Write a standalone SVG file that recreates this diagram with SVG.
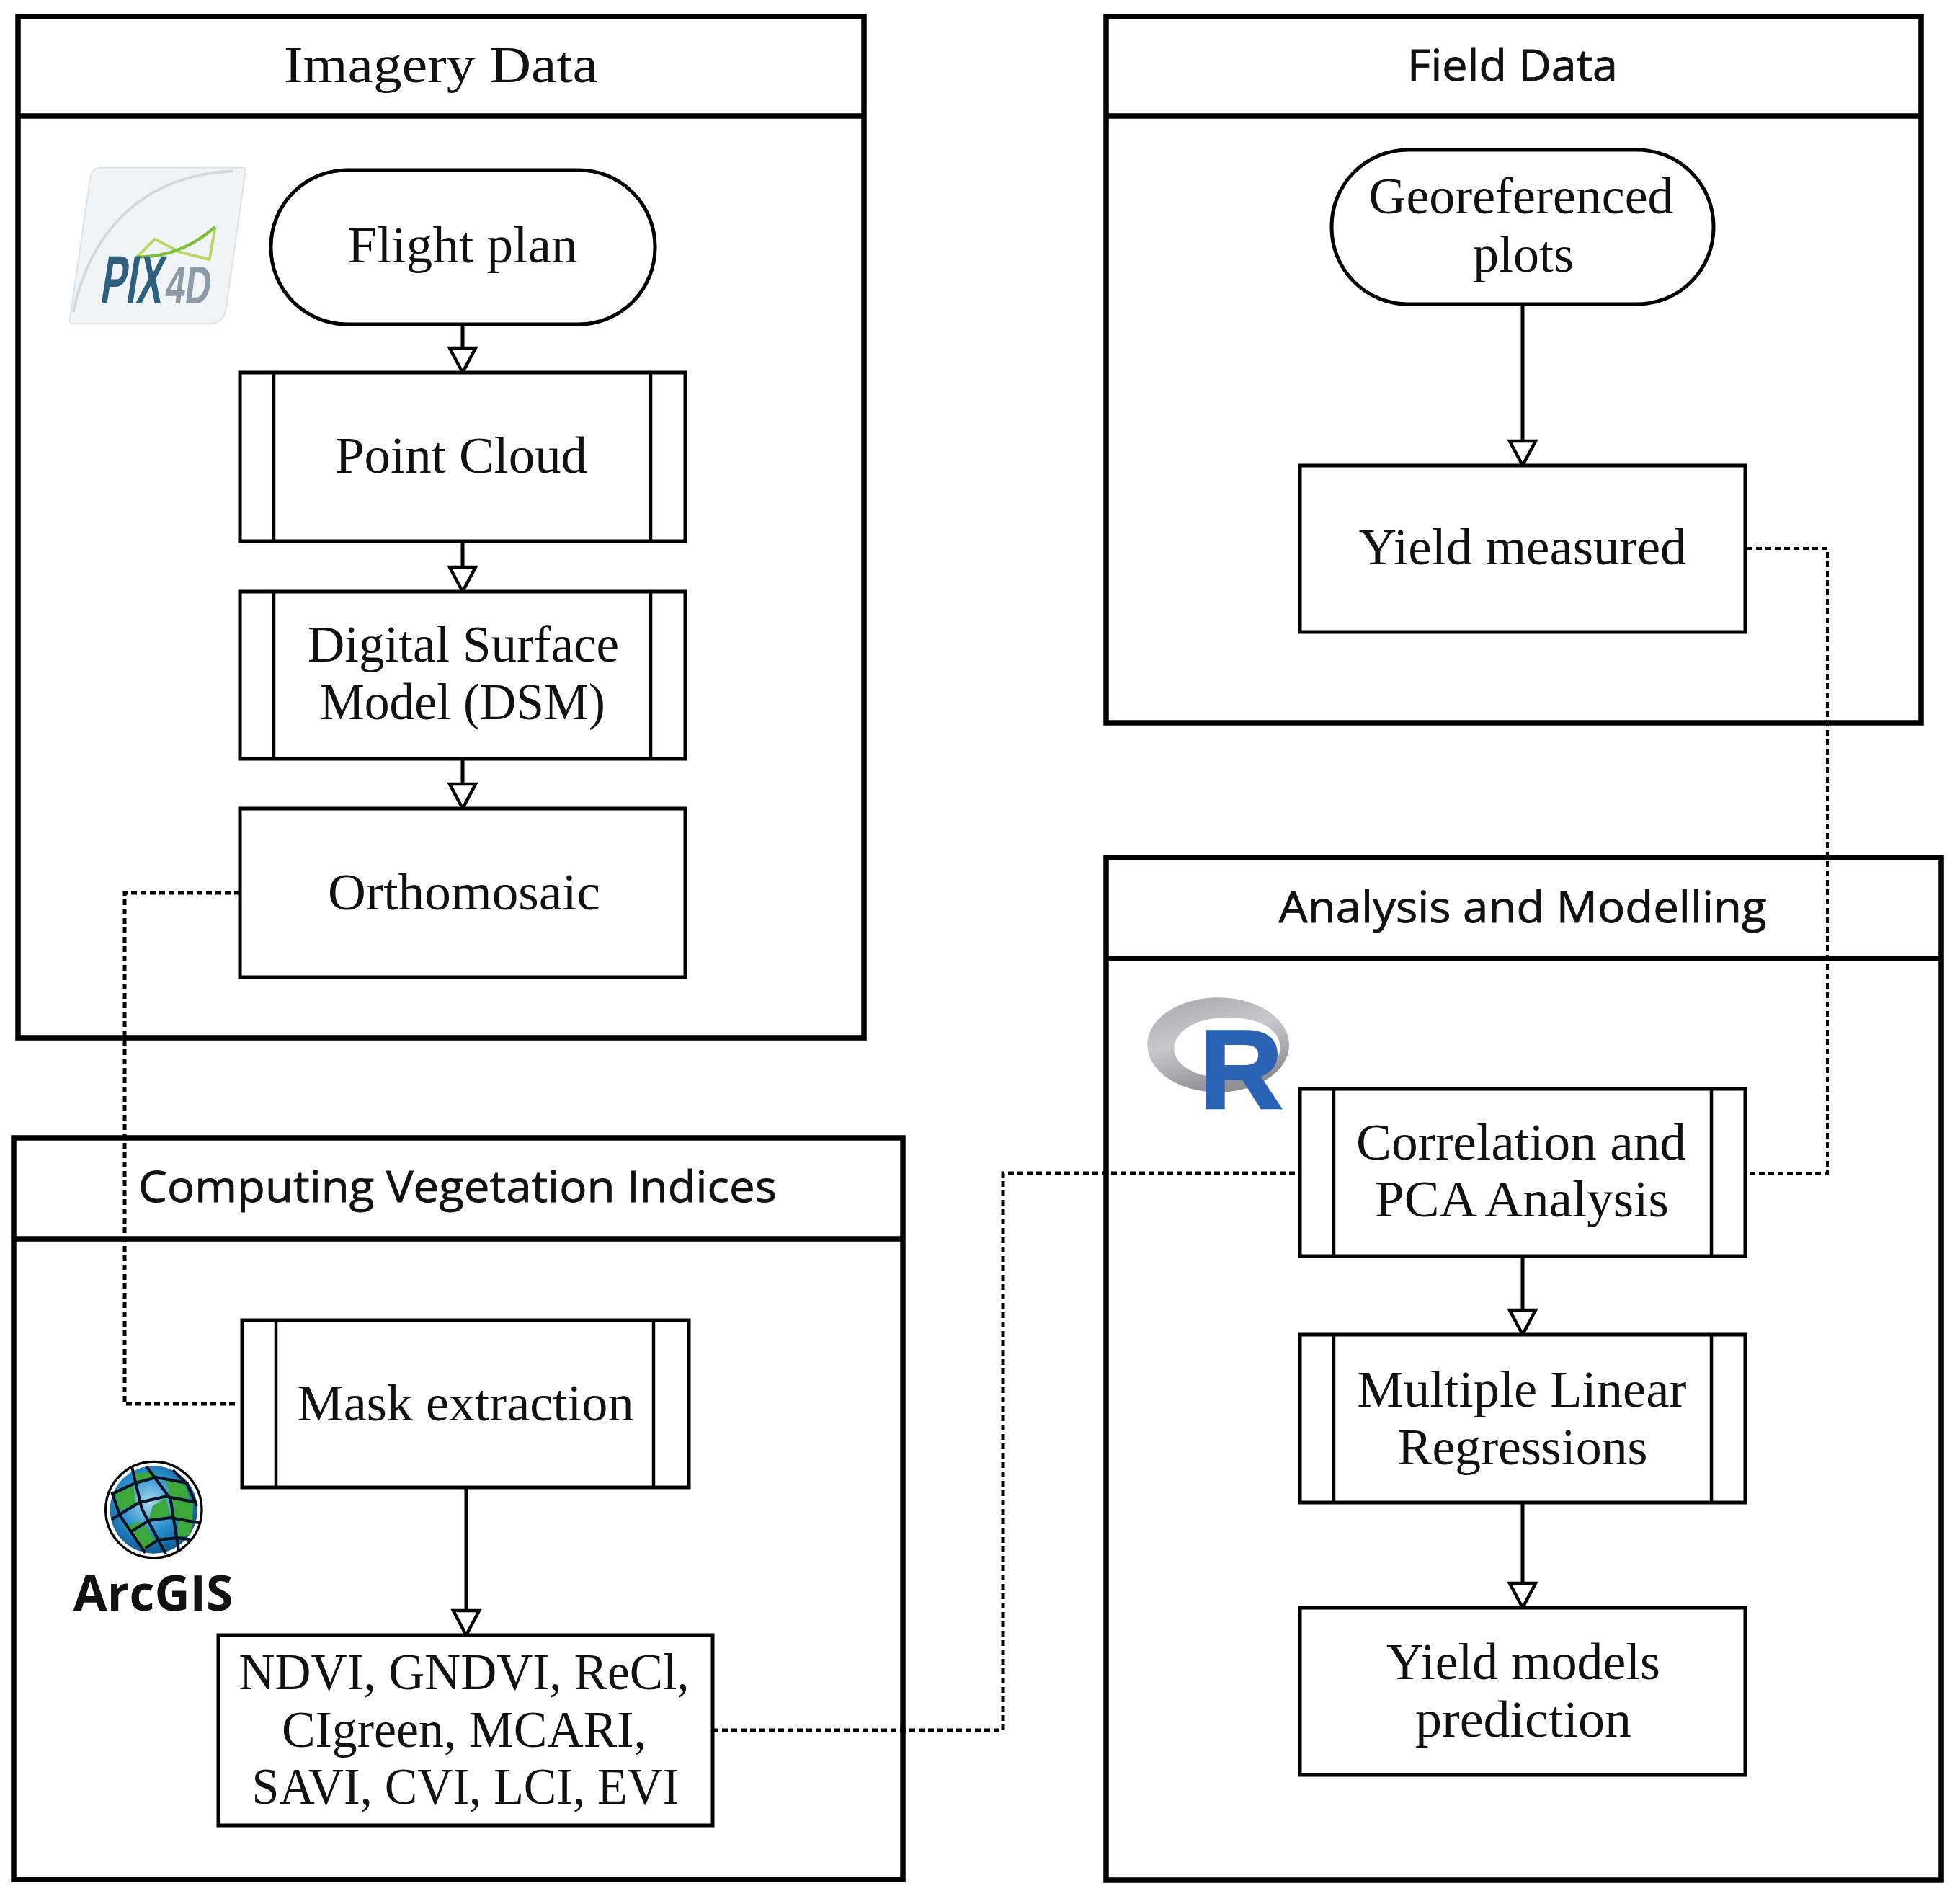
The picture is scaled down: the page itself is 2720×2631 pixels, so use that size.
<svg xmlns="http://www.w3.org/2000/svg" width="2720" height="2631" viewBox="0 0 2720 2631">
<style>
.panel{fill:#fff;stroke:#000;stroke-width:7.5}
.node{fill:#fff;stroke:#000;stroke-width:5}
.inner{fill:none;stroke:#000;stroke-width:4.5}
.st{font-family:"Liberation Serif","Times New Roman",serif;font-size:72px;fill:#111;text-anchor:middle;transform:translateY(2px)}
.sa{font-family:"Open Sans","Noto Sans",sans-serif;font-size:61px;fill:#111;stroke:#111;stroke-width:.8;text-anchor:middle}
.flow{fill:none;stroke:#000;stroke-width:5;marker-end:url(#tri)}
.dot{fill:none;stroke:#000;stroke-width:5;stroke-dasharray:8 5}
</style>
<defs>
<marker id="tri" markerUnits="userSpaceOnUse" markerWidth="44" markerHeight="44" refX="38" refY="22" orient="auto" viewBox="0 0 44 44">
<path d="M4 4V40L38 22Z" fill="#fff" stroke="#000" stroke-width="4.5"/>
</marker>
<radialGradient id="globe" cx="0.45" cy="0.42" r="0.6"><stop offset="0" stop-color="#a8d8f0"/><stop offset="0.55" stop-color="#2a8fd0"/><stop offset="1" stop-color="#11578f"/></radialGradient>
<linearGradient id="ring" x1="0" y1="0" x2="0.4" y2="1"><stop offset="0" stop-color="#a6a6aa"/><stop offset="0.5" stop-color="#c9c9cc"/><stop offset="1" stop-color="#909094"/></linearGradient>
<clipPath id="gc"><circle cx="460" cy="345" r="196"/></clipPath>
</defs>
<rect width="2720" height="2631" fill="#fff"/>

<g id="panel-imagery"><rect class="panel" x="25" y="23" width="1174" height="1417"/><path class="panel" d="M25 161H1199"/><text class="st" x="612" y="112" textLength="436" lengthAdjust="spacingAndGlyphs">Imagery Data</text></g>
<g id="panel-field"><rect class="panel" x="1535" y="23" width="1131" height="980"/><path class="panel" d="M1535 161H2666"/><text class="sa" x="2099" y="112" textLength="292" lengthAdjust="spacingAndGlyphs">Field Data</text></g>
<g id="panel-analysis"><rect class="panel" x="1535" y="1190" width="1159" height="1419"/><path class="panel" d="M1535 1330H2694"/><text class="sa" x="2113" y="1280" textLength="677" lengthAdjust="spacingAndGlyphs">Analysis and Modelling</text></g>
<g id="panel-indices"><rect class="panel" x="19" y="1579" width="1234" height="1029"/><path class="panel" d="M19 1719H1253"/><text class="sa" x="635" y="1668" textLength="886" lengthAdjust="spacingAndGlyphs">Computing Vegetation Indices</text></g>

<g id="connectors">
<path class="flow" d="M642 450V517"/>
<path class="flow" d="M642 751V821"/>
<path class="flow" d="M642 1053V1122"/>
<path class="flow" d="M2113 422V646"/>
<path class="flow" d="M647 2064V2269"/>
<path class="flow" d="M2113 1743V1852"/>
<path class="flow" d="M2113 2085V2231"/>
<path class="dot" d="M333 1239H173V1948H330"/>
<path class="dot" d="M989 2401H1392V1628H1801"/>
<path class="dot" style="stroke-width:4" d="M2424 761H2536V1628H2424"/>
</g>

<g id="n-flight"><rect class="node" x="376" y="236" width="533" height="214" rx="106" ry="106"/><text class="st" x="642" y="362" textLength="319" lengthAdjust="spacingAndGlyphs">Flight plan</text></g>
<g id="n-cloud"><rect class="node" x="333" y="517" width="618" height="234"/><path class="inner" d="M380 517V751M903 517V751"/><text class="st" x="640" y="654" textLength="350" lengthAdjust="spacingAndGlyphs">Point Cloud</text></g>
<g id="n-dsm"><rect class="node" x="333" y="821" width="618" height="232"/><path class="inner" d="M380 821V1053M903 821V1053"/><text class="st" x="643" y="916" textLength="432" lengthAdjust="spacingAndGlyphs">Digital Surface</text><text class="st" x="642" y="996" textLength="396" lengthAdjust="spacingAndGlyphs">Model (DSM)</text></g>
<g id="n-ortho"><rect class="node" x="333" y="1122" width="618" height="234"/><text class="st" x="644" y="1260" textLength="378" lengthAdjust="spacingAndGlyphs">Orthomosaic</text></g>
<g id="n-geo"><rect class="node" x="1848" y="208" width="530" height="214" rx="106" ry="106"/><text class="st" x="2111" y="294" textLength="423" lengthAdjust="spacingAndGlyphs">Georeferenced</text><text class="st" x="2114" y="375" textLength="140" lengthAdjust="spacingAndGlyphs">plots</text></g>
<g id="n-yield"><rect class="node" x="1804" y="646" width="618" height="231"/><text class="st" x="2113" y="781" textLength="455" lengthAdjust="spacingAndGlyphs">Yield measured</text></g>
<g id="n-corr"><rect class="node" x="1804" y="1511" width="618" height="232"/><path class="inner" d="M1851 1511V1743M2375 1511V1743"/><text class="st" x="2111" y="1607" textLength="458" lengthAdjust="spacingAndGlyphs">Correlation and</text><text class="st" x="2112" y="1686" textLength="408" lengthAdjust="spacingAndGlyphs">PCA Analysis</text></g>
<g id="n-mlr"><rect class="node" x="1804" y="1852" width="618" height="233"/><path class="inner" d="M1851 1852V2085M2375 1852V2085"/><text class="st" x="2112" y="1950" textLength="457" lengthAdjust="spacingAndGlyphs">Multiple Linear</text><text class="st" x="2113" y="2030" textLength="347" lengthAdjust="spacingAndGlyphs">Regressions</text></g>
<g id="n-models"><rect class="node" x="1804" y="2231" width="618" height="232"/><text class="st" x="2114" y="2328" textLength="380" lengthAdjust="spacingAndGlyphs">Yield models</text><text class="st" x="2114" y="2408" textLength="300" lengthAdjust="spacingAndGlyphs">prediction</text></g>
<g id="n-mask"><rect class="node" x="336" y="1832" width="620" height="232"/><path class="inner" d="M383 1832V2064M907 1832V2064"/><text class="st" x="646" y="1969" textLength="467" lengthAdjust="spacingAndGlyphs">Mask extraction</text></g>
<g id="n-vi"><rect class="node" x="303" y="2269" width="686" height="264"/><text class="st" x="644" y="2342" textLength="625" lengthAdjust="spacingAndGlyphs">NDVI, GNDVI, ReCl,</text><text class="st" x="644" y="2422" textLength="506" lengthAdjust="spacingAndGlyphs">CIgreen, MCARI,</text><text class="st" x="646" y="2501" textLength="593" lengthAdjust="spacingAndGlyphs">SAVI, CVI, LCI, EVI</text></g>

<g id="logo-pix4d" transform="translate(60 200) scale(.3333)">
<path d="M240 98H830Q845 98 842 112L760 690Q750 745 690 748H125Q108 748 111 730L195 145Q202 98 240 98Z" fill="#f1f4f6" stroke="#dfe3e6" stroke-width="6"/>
<path d="M125 700C190 380 400 130 790 112" fill="none" stroke="#d4d8db" stroke-width="12"/>
<path d="M390 470L465 395L570 450L692 480L716 345" fill="none" stroke="#bcd662" stroke-width="12" stroke-linejoin="round"/>
<path d="M390 470C510 470 620 430 716 345" fill="none" stroke="#7cbf3a" stroke-width="13"/>
<text transform="translate(232 662) skewX(-9)" font-family="Liberation Sans,Arial,sans-serif" font-weight="700" font-size="285" fill="#2f5f7e" textLength="258" lengthAdjust="spacingAndGlyphs">PIX</text>
<text transform="translate(502 662) skewX(-7)" font-family="Liberation Sans,Arial,sans-serif" font-weight="700" font-size="222" fill="#8d9aa8" textLength="190" lengthAdjust="spacingAndGlyphs">4D</text>
</g>

<g id="logo-arcgis" transform="translate(60 1980) scale(.3333)">
<circle cx="460" cy="345" r="200" fill="#fff" stroke="#000" stroke-width="10"/>
<circle cx="460" cy="345" r="182" fill="url(#globe)"/>
<g clip-path="url(#gc)">
<path d="M300 280L375 245L385 320L315 350Z M385 195L460 185L470 210L385 230Z M510 225L590 240L610 300L530 290Z M455 330L510 295L530 370L440 385Z M540 300L625 320L620 390L545 375Z M335 415L400 395L425 405L365 440Z M365 445L425 410L470 480L420 515Z M560 390L625 395L610 450L560 460Z" fill="#3da83a"/>
</g>
<g fill="none" stroke="#06121e" stroke-width="12" clip-path="url(#gc)">
<path d="M370 170L410 340L510 530"/>
<path d="M430 165L530 300L565 520"/>
<path d="M285 270L320 370L425 525"/>
<path d="M540 180L600 240L640 330"/>
<path d="M285 280L380 235L470 210L605 235"/>
<path d="M285 385L400 315L510 290L640 315"/>
<path d="M360 440L440 390L530 378L650 400"/>
<path d="M425 505L480 470L560 462L620 470"/>
</g>
<path d="M370 165Q420 140 490 145" fill="none" stroke="#000" stroke-width="6"/>
<text x="458" y="765" text-anchor="middle" font-family="Open Sans,Noto Sans,sans-serif" font-weight="700" font-size="205" fill="#111" textLength="665" lengthAdjust="spacingAndGlyphs">ArcGIS</text>
</g>

<g id="logo-r" transform="translate(1560 1360) scale(.3333)">
<path fill-rule="evenodd" d="M97 270C97 161 229 73 392 73S687 161 687 270S555 467 392 467S97 379 97 270ZM208 285C208 355 300 408 430 408S650 355 650 280S560 155 430 155S208 215 208 285Z" fill="url(#ring)"/>
<text x="312" y="530" font-family="Liberation Sans,Arial,sans-serif" font-weight="700" font-size="460" fill="#2a62b5" stroke="#2a62b5" stroke-width="10" textLength="348" lengthAdjust="spacingAndGlyphs">R</text>
</g>
</svg>
